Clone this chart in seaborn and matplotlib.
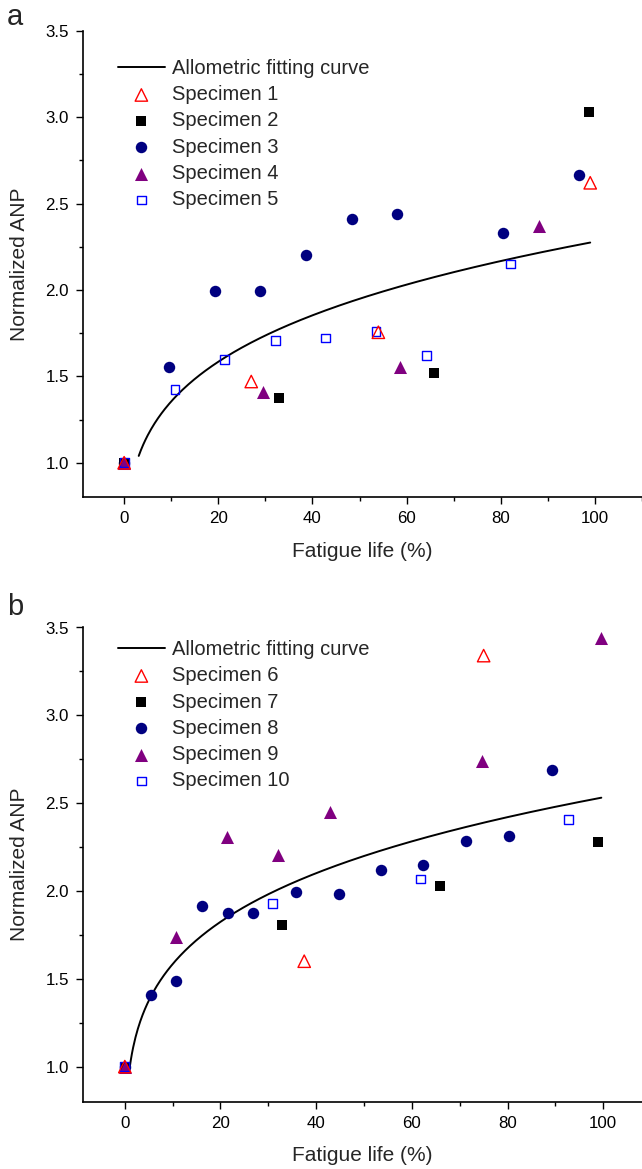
import numpy as np
import matplotlib
matplotlib.use("Agg")
import matplotlib.pyplot as plt
import seaborn as sns
from matplotlib.ticker import MultipleLocator, FormatStrFormatter

# ---------------- data ----------------
# Panel a
s1_x = [0, 27.0, 54.0, 99.0]
s1_y = [1.0, 1.47, 1.755, 2.62]
s2_x = [0, 32.9, 65.8, 98.8]
s2_y = [1.0, 1.376, 1.518, 3.027]
s3_x = [0, 9.6, 19.3, 28.9, 38.6, 48.4, 58.0, 80.5, 96.7]
s3_y = [1.0, 1.555, 1.994, 1.994, 2.204, 2.41, 2.44, 2.33, 2.666]
s4_x = [0, 29.4, 58.7, 88.1]
s4_y = [1.0, 1.41, 1.553, 2.37]
s5_x = [0, 10.8, 21.4, 32.1, 42.8, 53.5, 64.2, 82.0]
s5_y = [1.0, 1.425, 1.597, 1.709, 1.722, 1.759, 1.622, 2.15]
labels_a = ["Specimen 1", "Specimen 2", "Specimen 3", "Specimen 4", "Specimen 5"]
# allometric fit y = A * x^B (parameters)
fit_a_A, fit_a_B = 0.805, 0.226
fit_a_range = (3.1, 99.0)

# Panel b
s6_x = [0, 37.5, 75.0]
s6_y = [1.0, 1.60, 3.34]
s7_x = [0, 32.9, 65.9, 98.8]
s7_y = [1.0, 1.806, 2.026, 2.28]
s8_x = [0, 5.4, 10.7, 16.1, 21.5, 26.7, 35.7, 44.7, 53.5, 62.4, 71.4, 80.3, 89.3]
s8_y = [1.0, 1.41, 1.49, 1.915, 1.873, 1.875, 1.992, 1.985, 2.117, 2.15, 2.282, 2.311, 2.69]
s9_x = [0, 10.7, 21.4, 32.1, 42.8, 74.7, 99.6]
s9_y = [1.0, 1.736, 2.307, 2.207, 2.45, 2.742, 3.44]
s10_x = [0, 30.9, 61.8, 92.7]
s10_y = [1.0, 1.929, 2.068, 2.406]
labels_b = ["Specimen 6", "Specimen 7", "Specimen 8", "Specimen 9", "Specimen 10"]
fit_b_A, fit_b_B = 0.99, 0.204
fit_b_range = (1.0, 99.6)

fit_label = "Allometric fitting curve"
x_label = "Fatigue life (%)"
y_label = "Normalized ANP"

# ---------------- styling ----------------
sns.set_theme(style="ticks")
plt.rcParams["font.family"] = ["Liberation Sans", "DejaVu Sans"]
plt.rcParams["axes.edgecolor"] = "black"
plt.rcParams["xtick.color"] = "black"
plt.rcParams["ytick.color"] = "black"

# marker styles for the 5 series of each panel
styles = [
    dict(marker="^", s=80, facecolor="none", edgecolor="#ff0000", linewidth=1.0, zorder=6),
    dict(marker="s", s=48, color="black", edgecolor="black", linewidth=0, zorder=4),
    dict(marker="o", s=68, color="#000080", edgecolor="#000080", linewidth=0, zorder=3),
    dict(marker="^", s=88, color="#800080", edgecolor="#800080", linewidth=0, zorder=4),
    dict(marker="s", s=40, facecolor="none", edgecolor="#0000ff", linewidth=1.0, zorder=5),
]

W, H = 642, 1169
fig = plt.figure(figsize=(W / 100, H / 100), dpi=100)


def px_axes(left, top, right, bottom):
    return fig.add_axes([left / W, 1 - bottom / H, (right - left) / W, (bottom - top) / H])


def draw_panel(ax, series, labels, fitA, fitB, frange, xlim, leg_xy, letter, letter_xy):
    xc = np.linspace(frange[0], frange[1], 400)
    sns.lineplot(x=xc, y=fitA * xc ** fitB, color="black", lw=1.4, ax=ax,
                 label=fit_label, zorder=2)
    for (xs, ys), lab, st in zip(series, labels, styles):
        sns.scatterplot(x=xs, y=ys, ax=ax, label=lab, **st)
    ax.set_xlim(*xlim)
    ax.set_ylim(0.8, 3.5)
    ax.xaxis.set_major_locator(MultipleLocator(20))
    ax.xaxis.set_minor_locator(MultipleLocator(10))
    ax.yaxis.set_major_locator(MultipleLocator(0.5))
    ax.yaxis.set_minor_locator(MultipleLocator(0.25))
    ax.yaxis.set_major_formatter(FormatStrFormatter("%.1f"))
    ax.tick_params(which="major", direction="out", length=5, width=1.0,
                   labelsize=12.2, pad=5)
    ax.tick_params(which="minor", direction="out", length=2.6, width=1.0)
    for sp in ["top", "right"]:
        ax.spines[sp].set_visible(False)
    for sp in ["left", "bottom"]:
        ax.spines[sp].set_linewidth(1.2)
    ax.set_xlabel(x_label, fontsize=15)
    ax.set_ylabel(y_label, fontsize=15)
    ax.xaxis.label.set_va("center")
    ax.yaxis.label.set_va("center")
    bb = ax.get_position()
    axh = bb.height * H
    axw = bb.width * W
    ax.xaxis.set_label_coords(0.5, -(xlab_off) / axh)
    ax.yaxis.set_label_coords((19 - bb.x0 * W) / axw, 0.5)
    ax.legend(loc="upper left", bbox_to_anchor=(leg_xy[0] / W, 1 - leg_xy[1] / H),
              bbox_transform=fig.transFigure, frameon=False, fontsize=14.5,
              handlelength=2.35, handletextpad=0.33, labelspacing=0.36,
              borderpad=0, borderaxespad=0, scatterpoints=1)
    fig.text(letter_xy[0] / W, 1 - letter_xy[1] / H, letter, fontsize=21,
             ha="center", va="center")


xlab_off = 54
ax_a = px_axes(82.7, 30.7, 642, 497.3)
draw_panel(ax_a, [(s1_x, s1_y), (s2_x, s2_y), (s3_x, s3_y), (s4_x, s4_y), (s5_x, s5_y)],
           labels_a, fit_a_A, fit_a_B, fit_a_range, (-8.8, 110),
           (117.7, 59.0), "a", (15, 17))

ax_b = px_axes(82.7, 627.5, 642, 1101.7)
draw_panel(ax_b, [(s6_x, s6_y), (s7_x, s7_y), (s8_x, s8_y), (s9_x, s9_y), (s10_x, s10_y)],
           labels_b, fit_b_A, fit_b_B, fit_b_range, (-8.8, 108.1),
           (117.7, 640.0), "b", (15, 607))

fig.savefig("out.png", dpi=100)
